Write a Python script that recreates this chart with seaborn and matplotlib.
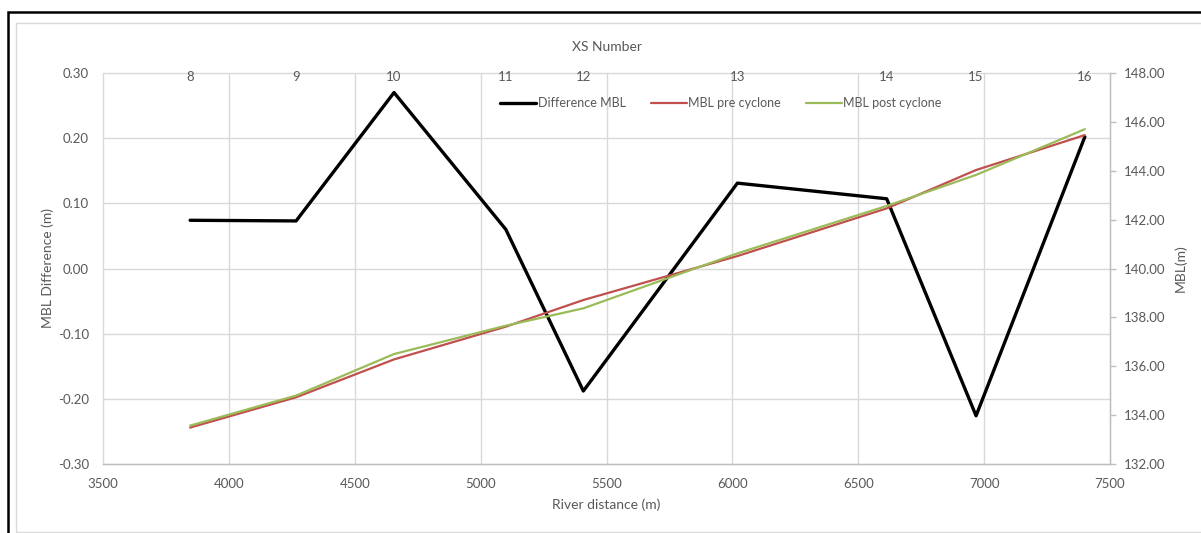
import matplotlib
matplotlib.use("Agg")
import matplotlib.pyplot as plt
import seaborn as sns
import pandas as pd
from matplotlib.patches import Rectangle

# ---- data ----
xs_number = ["8", "9", "10", "11", "12", "13", "14", "15", "16"]
river_distance = [3846, 4267, 4656, 5100, 5408, 6020, 6613, 6968, 7400]
difference_mbl = [0.074, 0.073, 0.270, 0.060, -0.188, 0.131, 0.107, -0.226, 0.202]
mbl_pre = [133.49, 134.73, 136.28, 137.62, 138.71, 140.51, 142.46, 144.03, 145.46]
mbl_post = [133.57, 134.80, 136.50, 137.66, 138.37, 140.62, 142.56, 143.83, 145.70]

df = pd.DataFrame({"dist": river_distance, "diff": difference_mbl,
                   "pre": mbl_pre, "post": mbl_post})

sns.set_theme(style="white")
plt.rcParams["font.family"] = ["Lato", "DejaVu Sans"]
txt = "#595959"
grid = "#D9D9D9"

fig = plt.figure(figsize=(12.01, 5.33), dpi=100)
L, R, B, T = 103 / 1201, 1110 / 1201, 1 - 464 / 533, 1 - 73 / 533
ax = fig.add_axes([L, B, R - L, T - B])

# outer black border and inner light frame
fig.add_artist(Rectangle((8 / 1201, -0.1), 1.2, (533 - 12) / 533 + 0.1,
                         transform=fig.transFigure, fill=False, ec="black", lw=1.8))
fig.add_artist(Rectangle((16 / 1201, (533 - 532) / 533), 1.2, (532 - 23) / 533,
                         transform=fig.transFigure, fill=False, ec="#D9D9D9", lw=1.0))

sns.lineplot(data=df, x="dist", y="diff", ax=ax, color="black", lw=2.4,
             sort=False, label="Difference MBL", legend=False)
ax.set_xlim(3500, 7500)
ax.set_ylim(-0.30, 0.30)
yt = [-0.3, -0.2, -0.1, 0.0, 0.1, 0.2, 0.3]
ax.set_xticks(range(3500, 7501, 500))
ax.set_yticks(yt)
ax.set_yticklabels([f"{v:.2f}" for v in yt])
ax.grid(True, color=grid, lw=1.0, clip_on=False)
ax.set_axisbelow(True)
for s in ["left", "top", "right"]:
    ax.spines[s].set_visible(False)
ax.spines["bottom"].set_color("#BFBFBF")
ax.spines["bottom"].set_linewidth(1.0)
ax.tick_params(axis="both", length=0, labelsize=9.5, colors=txt)
ax.tick_params(axis="x", pad=10)
ax.tick_params(axis="y", pad=10)
ax.set_xlabel("River distance (m)", fontsize=10, color=txt, labelpad=6)
ax.set_ylabel("MBL Difference (m)", fontsize=10, color=txt, labelpad=3)

# right axis
ax2 = ax.twinx()
sns.lineplot(data=df, x="dist", y="pre", ax=ax2, color="#C0504D", lw=1.6,
             sort=False, label="MBL pre cyclone", legend=False)
sns.lineplot(data=df, x="dist", y="post", ax=ax2, color="#9BBB59", lw=1.6,
             sort=False, label="MBL post cyclone", legend=False)
ax2.set_ylim(132, 148)
ax2.set_yticks(range(132, 149, 2))
ax2.set_yticklabels([f"{v:.2f}" for v in range(132, 149, 2)])
for s in ["left", "top", "bottom"]:
    ax2.spines[s].set_visible(False)
ax2.spines["right"].set_color("#BFBFBF")
ax2.spines["right"].set_linewidth(1.0)
ax2.tick_params(axis="y", length=4, width=1, color="#BFBFBF", labelsize=9.5,
                labelcolor=txt, pad=6)
ax2.set_ylabel("MBL(m)", fontsize=10, color=txt, labelpad=6)
ax2.set_xlim(3500, 7500)

# top axis: XS numbers
ax3 = ax.twiny()
ax3.set_xlim(3500, 7500)
ax3.set_xticks(river_distance)
ax3.set_xticklabels(xs_number)
ax3.tick_params(axis="x", length=0, labelsize=9.5, colors=txt, pad=-7)
ax3.tick_params(axis="y", left=False, right=False, labelleft=False, labelright=False)
ax3.patch.set_visible(False)
for s in ax3.spines.values():
    s.set_visible(False)
ax3.set_xlabel("XS Number", fontsize=10, color=txt, labelpad=14)

h1, l1 = ax.get_legend_handles_labels()
h2, l2 = ax2.get_legend_handles_labels()
leg = fig.legend(h1 + h2, l1 + l2, loc="center", ncol=3, frameon=False,
                 bbox_to_anchor=(721 / 1201, 1 - 103 / 533), fontsize=9,
                 handlelength=2.9, handletextpad=0.1, columnspacing=2.0)
for t in leg.get_texts():
    t.set_color(txt)

fig.savefig("out.png", dpi=100)
